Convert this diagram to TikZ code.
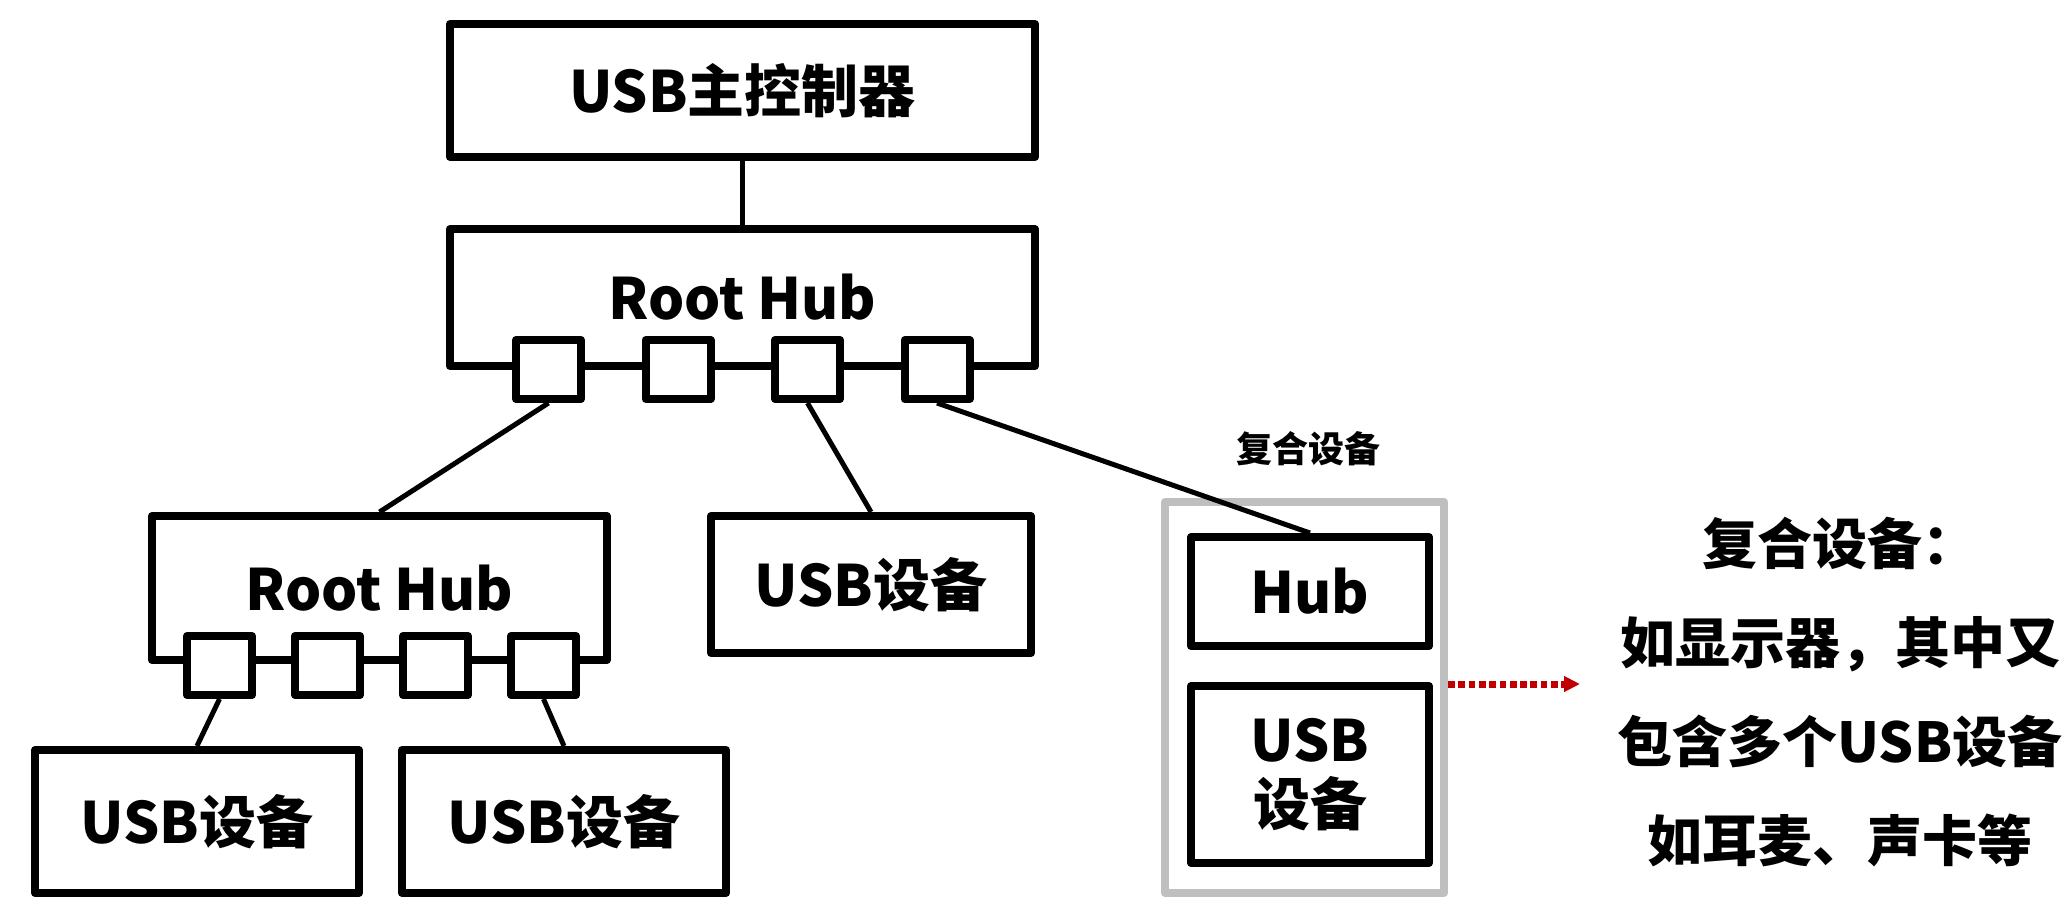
\documentclass[tikz,border=0pt]{standalone}
\usepackage{fontspec}
\setmainfont{Noto Sans CJK SC}
\usetikzlibrary{arrows.meta}
\definecolor{graybox}{HTML}{BFBFBF}
\definecolor{darkred}{HTML}{C00000}
\tikzset{
  box/.style={draw, line width=8pt, line join=round, inner sep=0pt, align=center,
    font=\bfseries\fontsize{57}{64}\selectfont},
  port/.style={draw, fill=white, line width=8pt, line join=round,
    minimum width=65pt, minimum height=59pt, inner sep=0pt},
  conn/.style={line width=5pt},
}
\begin{document}
\begin{tikzpicture}[x=1pt,y=-1pt]
\useasboundingbox (0,0) rectangle (2072,921);
% top controller and root hub
\node[box, minimum width=585pt, minimum height=133pt] (main) at (742.5,90.5) {USB主控制器};
\node[box, minimum width=585pt, minimum height=137pt] (root) at (742.5,297.5) {Root Hub};
\node[port] (p1) at (548.5,369.5) {};
\node[port] (p2) at (678,369.5) {};
\node[port] (p3) at (807.5,369.5) {};
\node[port] (p4) at (937,369.5) {};
% second level
\node[box, minimum width=455pt, minimum height=144pt] (hub2) at (379.5,588) {Root Hub};
\node[port] (q1) at (219.5,665.5) {};
\node[port] (q2) at (327.5,665.5) {};
\node[port] (q3) at (435.5,665.5) {};
\node[port] (q4) at (543.5,665.5) {};
\node[box, minimum width=320pt, minimum height=137pt] (mid) at (871,584.5) {USB设备};
% bottom devices
\node[box, minimum width=324pt, minimum height=143pt] (dev1) at (197,821.5) {USB设备};
\node[box, minimum width=324pt, minimum height=143pt] (dev2) at (564,821.5) {USB设备};
% composite device
\node[draw=graybox, line width=8pt, line join=round, minimum width=279pt, minimum height=391pt, inner sep=0pt] (grp) at (1304.5,697.5) {};
\node[box, minimum width=238pt, minimum height=109pt] (hub) at (1310,591.5) {Hub};
\node[box, minimum width=238pt, minimum height=177pt] (usb) at (1310,774.5) {USB\\设备};
\node[font=\bfseries\fontsize{36}{40}\selectfont, inner sep=0pt] (lbl) at (1308,449) {复合设备};
% connectors
\draw[conn] (main.south) -- (root.north);
\draw[conn] (p1.south) -- (hub2.north);
\draw[conn] (p3.south) -- (mid.north);
\draw[conn] (p4.south) -- (hub.north);
\draw[conn] (q1.south) -- (dev1.north);
\draw[conn] (q4.south) -- (dev2.north);
% arrow and description
\coordinate (tipend) at (1580,684);
\draw[line width=7pt, darkred, dash pattern=on 6.7pt off 3.6pt,
  -{Triangle[length=16pt,width=15pt]}] (grp.east |- tipend) -- (tipend);
\node[font=\bfseries\fontsize{55}{99}\selectfont, align=center, inner sep=0pt] (desc) at (1840,692)
  {复合设备：\\如显示器，其中又\\包含多个USB设备\\如耳麦、声卡等};
\end{tikzpicture}
\end{document}
